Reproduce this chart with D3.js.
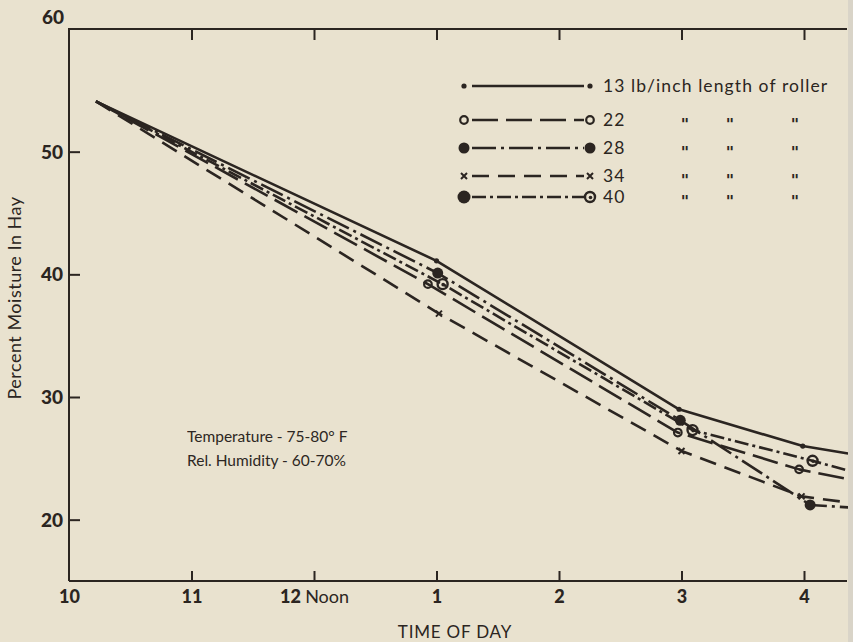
<!DOCTYPE html>
<html>
<head>
<meta charset="utf-8">
<script src="https://cdn.jsdelivr.net/npm/d3@7"></script>
<style>
  html, body { margin: 0; padding: 0; background: #e9e2cf; }
  svg { display: block; }
  text { font-family: Lato, "Open Sans", sans-serif; fill: #2b2521; }
</style>
</head>
<body>
<svg id="chart" width="853" height="642"></svg>
<script>
// Hour of day on a 24-hour clock; moisture in percent.
const rollerLoads = ["13", "22", "28", "34", "40"];
const hours13 = [10.22, 13.00, 14.98, 15.99, 16.36];
const moist13 = [54.1, 41.1, 29.0, 26.0, 25.4];
const hours22 = [10.22, 12.93, 14.97, 15.96, 16.36];
const moist22 = [54.1, 39.2, 27.1, 24.1, 23.3];
const hours28 = [10.22, 13.01, 14.99, 16.05, 16.36];
const moist28 = [54.1, 40.1, 28.1, 21.2, 21.0];
const hours34 = [10.22, 13.02, 15.00, 15.98, 16.36];
const moist34 = [54.1, 36.8, 25.6, 21.9, 21.4];
const hours40 = [10.22, 13.05, 15.09, 16.07, 16.36];
const moist40 = [54.1, 39.2, 27.3, 24.8, 24.0];

const xTickValues = [10, 11, 12, 13, 14, 15, 16];
const xTickLabels = ["10", "11", "12 Noon", "1", "2", "3", "4"];
const yTickValues = [20, 30, 40, 50, 60];

const ink = "#2b2521";
const svg = d3.select("#chart");

const x = d3.scaleLinear().domain([10, 16.4]).range([69, 853]);
const y = d3.scaleLinear().domain([15, 60]).range([581, 29]);
const xEnd = 847;

// frame: left and top border, bottom axis line
svg.append("path")
  .attr("d", `M${x(10)},${y(15)} L${x(10)},${y(60)} L${xEnd},${y(60)}`)
  .attr("fill", "none").attr("stroke", ink).attr("stroke-width", 2);
svg.append("line")
  .attr("x1", x(10)).attr("x2", xEnd).attr("y1", y(15)).attr("y2", y(15))
  .attr("stroke", ink).attr("stroke-width", 2);

// left axis: inward ticks, bold labels
const yAxis = svg.append("g").attr("transform", `translate(${x(10)},0)`)
  .call(d3.axisLeft(y).tickValues(yTickValues).tickSize(-11).tickPadding(6));
yAxis.select(".domain").remove();
yAxis.selectAll(".tick line").attr("stroke", ink).attr("stroke-width", 2);
yAxis.selectAll(".tick text")
  .style("font-family", "Lato, sans-serif").attr("font-weight", 900)
  .attr("font-size", 19).attr("fill", ink)
  .attr("dy", d => d === 60 ? "-0.3em" : "0.35em")
  .attr("x", d => d === 60 ? -5 : -6);
yAxis.selectAll(".tick").filter(d => d === 60).select("line").remove();

// bottom axis: upward ticks
const xAxis = svg.append("g").attr("transform", `translate(0,${y(15)})`)
  .call(d3.axisBottom(x).tickValues(xTickValues).tickSize(-10).tickPadding(9)
    .tickFormat((d, i) => xTickLabels[i]));
xAxis.select(".domain").remove();
xAxis.selectAll(".tick line").attr("stroke", ink).attr("stroke-width", 2);
xAxis.selectAll(".tick").filter(d => d === 10).select("line").remove();
xAxis.selectAll(".tick text")
  .style("font-family", "Lato, sans-serif").attr("font-size", 18).attr("fill", ink)
  .attr("font-weight", 900)
  .each(function(d, i) {
    const t = d3.select(this);
    if (xTickLabels[i] === "12 Noon") {
      t.text(null);
      t.append("tspan").attr("font-weight", 900).text("12 ");
      t.append("tspan").attr("font-weight", 400).text("Noon");
    }
  });

// top border: downward ticks, no labels
const xTop = svg.append("g").attr("transform", `translate(0,${y(60)})`)
  .call(d3.axisTop(x).tickValues(xTickValues.slice(1)).tickSize(-11).tickFormat(""));
xTop.select(".domain").remove();
xTop.selectAll(".tick line").attr("stroke", ink).attr("stroke-width", 2);

// axis titles
svg.append("text").attr("x", 455).attr("y", 638).attr("text-anchor", "middle")
  .attr("font-size", 17).attr("letter-spacing", 0.8).text("TIME OF DAY");
svg.append("text")
  .attr("transform", "translate(21,298) rotate(-90)")
  .attr("text-anchor", "middle").attr("font-size", 18).attr("letter-spacing", 0.5)
  .text("Percent Moisture In Hay");

// series definitions
const series = [
  { load: rollerLoads[0], hours: hours13, vals: moist13, dash: null, marker: "dot" },
  { load: rollerLoads[1], hours: hours22, vals: moist22, dash: "26,8", marker: "open" },
  { load: rollerLoads[2], hours: hours28, vals: moist28, dash: "24,5,3,5", marker: "filled" },
  { load: rollerLoads[3], hours: hours34, vals: moist34, dash: "17,9", marker: "cross" },
  { load: rollerLoads[4], hours: hours40, vals: moist40, dash: "14,4,3,4", marker: "dotcircle" }
];

const line = d3.line().x(d => x(d[0])).y(d => y(d[1]));
const plot = svg.append("g");

function drawMarker(g, type, cx, cy, big) {
  if (type === "dot") {
    g.append("circle").attr("cx", cx).attr("cy", cy).attr("r", 2.6).attr("fill", ink);
  } else if (type === "open") {
    g.append("circle").attr("cx", cx).attr("cy", cy).attr("r", 3.8)
      .attr("fill", "none").attr("stroke", ink).attr("stroke-width", 2.2);
  } else if (type === "filled") {
    g.append("circle").attr("cx", cx).attr("cy", cy).attr("r", big ? 6.5 : 5.5).attr("fill", ink);
  } else if (type === "cross") {
    const s = 3;
    g.append("path")
      .attr("d", `M${cx - s},${cy - s}L${cx + s},${cy + s}M${cx - s},${cy + s}L${cx + s},${cy - s}`)
      .attr("stroke", ink).attr("stroke-width", 2);
  } else if (type === "dotcircle") {
    g.append("circle").attr("cx", cx).attr("cy", cy).attr("r", 5)
      .attr("fill", "none").attr("stroke", ink).attr("stroke-width", 2.4);
    g.append("circle").attr("cx", cx + 0.5).attr("cy", cy + 0.5).attr("r", 1.8).attr("fill", ink);
  }
}

series.forEach(s => {
  const pts = s.hours.map((h, i) => [h, s.vals[i]]);
  plot.append("path").datum(pts).attr("d", line)
    .attr("fill", "none").attr("stroke", ink).attr("stroke-width", 2.6)
    .attr("stroke-linejoin", "round")
    .attr("stroke-dasharray", s.dash);
  // measured points (start and clipped end carry no marker)
  pts.slice(1, 4).forEach(p => drawMarker(plot, s.marker, x(p[0]), y(p[1])));
});

// legend
const legendRows = [86, 120, 148, 176, 197];
const lx1 = 464, lx2 = 590, ltx = 603;
const legend = svg.append("g");
series.forEach((s, i) => {
  const ly = legendRows[i];
  legend.append("line").attr("x1", lx1 + 8).attr("x2", lx2 - 6).attr("y1", ly).attr("y2", ly)
    .attr("stroke", ink).attr("stroke-width", 2.6).attr("stroke-dasharray", s.dash);
  const leftType = s.marker === "dotcircle" ? "filled" : s.marker;
  drawMarker(legend, leftType, lx1, ly, s.marker === "dotcircle");
  drawMarker(legend, s.marker, lx2, ly);
  const label = i === 0 ? `${s.load} lb/inch length of roller` : s.load;
  legend.append("text").attr("x", ltx).attr("y", ly).attr("dy", "0.34em")
    .attr("font-size", 17.5).attr("letter-spacing", 1.1).text(label);
});

// ditto marks under "lb/inch length of roller"
const ditto = svg.append("g").style("opacity", 0.99);
legendRows.slice(1).forEach(ly => {
  [685, 730, 795].forEach(dx => {
    ditto.append("text").attr("x", dx).attr("y", ly).attr("dy", "0.62em")
      .attr("text-anchor", "middle").attr("font-size", 16).attr("font-weight", 700)
      .style("font-family", "'DejaVu Sans', sans-serif").text("\u0022");
  });
});

// test conditions
const note = svg.append("g").attr("font-size", 15.5).style("opacity", 0.99);
note.append("text").attr("x", 187).attr("y", 442).text("Temperature - 75-80\u00B0 F");
note.append("text").attr("x", 187).attr("y", 466).text("Rel. Humidity - 60-70%");

// scanned page edge on the right
svg.append("rect").attr("x", 848).attr("y", 0).attr("width", 5).attr("height", 642)
  .attr("fill", "#d9d4c8");
</script>
</body>
</html>
